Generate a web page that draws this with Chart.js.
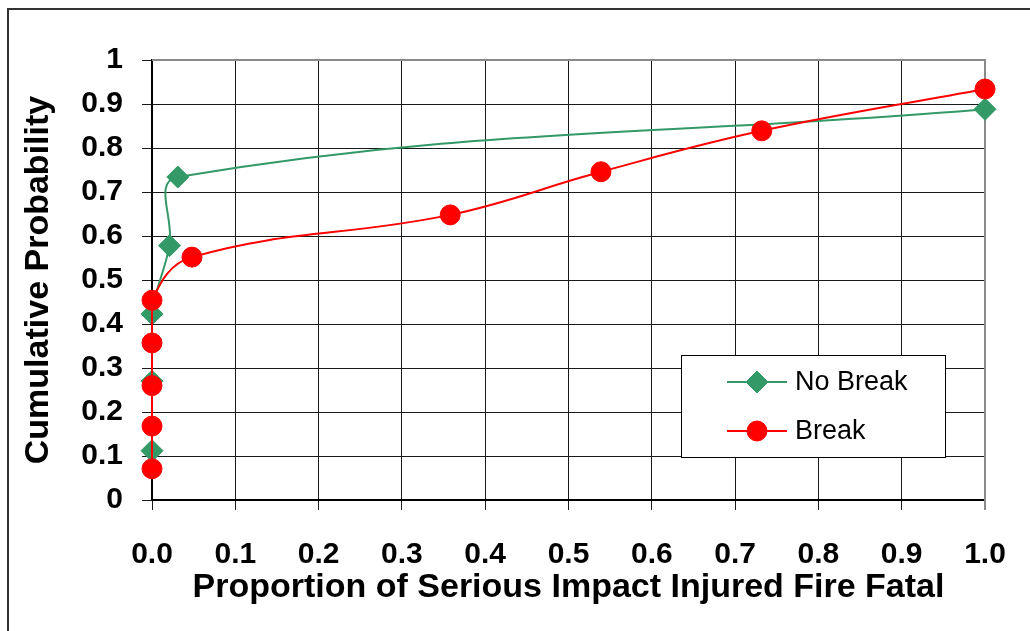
<!DOCTYPE html>
<html>
<head>
<meta charset="utf-8">
<script src="https://cdn.jsdelivr.net/npm/chart.js@4/dist/chart.umd.min.js"></script>
<style>
  html, body { margin: 0; padding: 0; background: #ffffff; overflow: hidden; }
  #frame { position: absolute; left: 7px; top: 8px; width: 1100px; height: 700px; border: 2px solid #333333; box-sizing: border-box; }
  #c { position: absolute; left: 0; top: 0; }
</style>
</head>
<body>
<div id="frame"></div>
<canvas id="c" width="1030" height="631"></canvas>
<script>
// ---- Data ----
const noBreakX = [0, 0, 0, 0.021, 0.031, 1.0];
const noBreakY = [0.112, 0.27, 0.423, 0.578, 0.734, 0.888];
const breakX = [0, 0, 0, 0, 0, 0.048, 0.358, 0.539, 0.732, 1.0];
const breakY = [0.071, 0.168, 0.26, 0.357, 0.454, 0.552, 0.648, 0.746, 0.839, 0.934];
const seriesNames = ['No Break', 'Break'];
const xTickLabels = ['0.0', '0.1', '0.2', '0.3', '0.4', '0.5', '0.6', '0.7', '0.8', '0.9', '1.0'];
const yTickLabels = ['0', '0.1', '0.2', '0.3', '0.4', '0.5', '0.6', '0.7', '0.8', '0.9', '1'];
const xTitle = 'Proportion of Serious Impact Injured Fire Fatal';
const yTitle = 'Cumulative Probability';

const FONT = "'Liberation Sans', Arial, Helvetica, sans-serif";
const GREEN = '#339966';
const RED = '#ff0000';

function pts(xs, ys) { return xs.map((x, i) => ({ x: x, y: ys[i] })); }

const frameLines = {
  id: 'frameLines',
  beforeDatasetsDraw(chart) {
    const a = chart.chartArea, ctx = chart.ctx;
    ctx.save();
    ctx.strokeStyle = '#8a8a8a';
    ctx.lineWidth = 2;
    ctx.beginPath();
    ctx.moveTo(a.left, a.top);
    ctx.lineTo(a.right, a.top);
    ctx.lineTo(a.right, a.bottom + 10);
    ctx.stroke();
    ctx.restore();
  }
};

const boxLegend = {
  id: 'boxLegend',
  afterDraw(chart) {
    const ctx = chart.ctx;
    const L = 681, T = 355, R = 945, B = 457;
    ctx.save();
    ctx.fillStyle = '#ffffff';
    ctx.fillRect(L, T, R - L, B - T);
    ctx.strokeStyle = '#000000';
    ctx.lineWidth = 1;
    ctx.strokeRect(L + 0.5, T + 0.5, R - L, B - T);
    const rows = [382, 431];
    chart.data.datasets.forEach((ds, i) => {
      const y = rows[i];
      ctx.strokeStyle = ds.borderColor;
      ctx.lineWidth = 2;
      ctx.beginPath();
      ctx.moveTo(727, y);
      ctx.lineTo(787, y);
      ctx.stroke();
      ctx.fillStyle = ds.pointBackgroundColor;
      ctx.strokeStyle = ds.pointBorderColor;
      ctx.lineWidth = 1;
      Chart.helpers.drawPoint(ctx, {
        pointStyle: ds.pointStyle,
        radius: ds.pointRadius,
        rotation: 0,
        borderWidth: 1
      }, 757, y);
      ctx.fillStyle = '#000000';
      ctx.font = '27px ' + FONT;
      ctx.textBaseline = 'middle';
      ctx.textAlign = 'left';
      ctx.fillText(ds.label, 795, y + 1);
    });
    ctx.restore();
  }
};

new Chart(document.getElementById('c'), {
  type: 'scatter',
  data: {
    datasets: [
      {
        label: seriesNames[0],
        data: pts(noBreakX, noBreakY),
        showLine: true,
        borderColor: GREEN,
        borderWidth: 2,
        tension: 0.4,
        pointStyle: 'rectRot',
        pointRadius: 11,
        pointBackgroundColor: GREEN,
        pointBorderColor: GREEN,
        pointBorderWidth: 1,
        clip: false,
        order: 2
      },
      {
        label: seriesNames[1],
        data: pts(breakX, breakY),
        showLine: true,
        borderColor: RED,
        borderWidth: 2,
        tension: 0.4,
        pointStyle: 'circle',
        pointRadius: 10,
        pointBackgroundColor: RED,
        pointBorderColor: RED,
        pointBorderWidth: 1,
        clip: false,
        order: 1
      }
    ]
  },
  options: {
    responsive: false,
    animation: false,
    devicePixelRatio: 1,
    layout: { padding: { left: 18, top: 60, right: 45, bottom: 23 } },
    plugins: {
      legend: { display: false },
      tooltip: { enabled: false }
    },
    scales: {
      x: {
        type: 'linear',
        min: 0, max: 1,
        afterFit(scale) { scale.height = 108; scale.paddingLeft = 0; scale.paddingRight = 0; },
        ticks: {
          stepSize: 0.1,
          padding: 27,
          maxRotation: 0,
          color: '#000000',
          font: { family: FONT, size: 30, weight: 'bold' },
          callback(v) { return xTickLabels[Math.round(v * 10)]; }
        },
        grid: { color: '#1a1a1a', lineWidth: 1, tickLength: 10, drawTicks: true },
        border: { color: '#000000', width: 2 },
        title: {
          display: true,
          text: xTitle,
          color: '#000000',
          font: { family: FONT, size: 34, weight: 'bold' },
          padding: 0
        }
      },
      y: {
        type: 'linear',
        min: 0, max: 1,
        afterFit(scale) { scale.width = 134; scale.paddingTop = 0; scale.paddingBottom = 0; },
        ticks: {
          stepSize: 0.1,
          padding: 19,
          color: '#000000',
          font: { family: FONT, size: 30, weight: 'bold' },
          callback(v) { return yTickLabels[Math.round(v * 10)]; }
        },
        grid: { color: '#1a1a1a', lineWidth: 1, tickLength: 10, drawTicks: true },
        border: { color: '#000000', width: 2 },
        title: {
          display: true,
          text: yTitle,
          color: '#000000',
          font: { family: FONT, size: 34, weight: 'bold' },
          padding: 0
        }
      }
    }
  },
  plugins: [frameLines, boxLegend]
});
</script>
</body>
</html>
